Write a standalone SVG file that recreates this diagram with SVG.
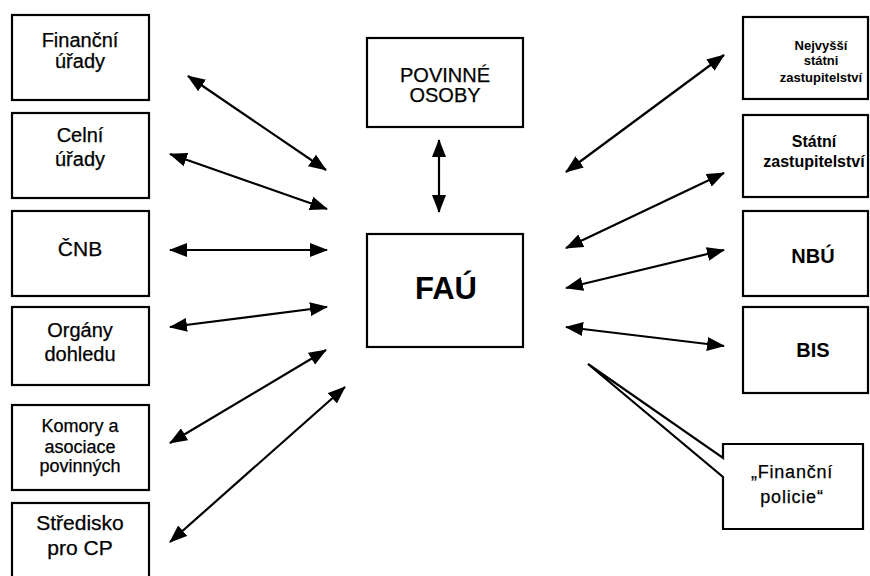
<svg xmlns="http://www.w3.org/2000/svg" width="870" height="576" viewBox="0 0 870 576">
<style>
.box{fill:#fff;stroke:#000;stroke-width:2.2}
.t{font-family:"Liberation Sans",Arial,sans-serif;font-size:20px;fill:#000;stroke:#000;stroke-width:0.25;text-anchor:middle}
.b{font-weight:bold;stroke-width:0}
.s{font-size:13px}
.c line{stroke:#000;stroke-width:2.2;marker-start:url(#ah);marker-end:url(#ah)}
</style>
<defs>
<marker id="ah" markerUnits="userSpaceOnUse" markerWidth="18" markerHeight="14" refX="17" refY="7" orient="auto-start-reverse" viewBox="0 0 18 14">
<path d="M0,0 L18,7 L0,14 z" fill="#000"/>
</marker>
</defs>
<rect width="870" height="576" fill="#fff"/>

<g id="financni-urady"><rect class="box" x="12" y="15" width="137" height="85"/><text class="t" x="80" y="47">Finanční</text><text class="t" x="80" y="68">úřady</text></g>
<g id="celni-urady"><rect class="box" x="12" y="113" width="137" height="85"/><text class="t" x="80" y="142">Celní</text><text class="t" x="80" y="166">úřady</text></g>
<g id="cnb"><rect class="box" x="12" y="211" width="137" height="85"/><text class="t" x="80" y="256" style="font-size:21px">ČNB</text></g>
<g id="organy-dohledu"><rect class="box" x="12" y="307" width="137" height="78"/><text class="t" x="80" y="337">Orgány</text><text class="t" x="80" y="361">dohledu</text></g>
<g id="komory"><rect class="box" x="12" y="405" width="137" height="85"/><text class="t" x="80" y="432" style="font-size:18px">Komory a</text><text class="t" x="80" y="453" style="font-size:18px">asociace</text><text class="t" x="80" y="472" style="font-size:18px">povinných</text></g>
<g id="stredisko"><rect class="box" x="12" y="503" width="137" height="80"/><text class="t" x="80" y="530" style="font-size:21px">Středisko</text><text class="t" x="80" y="555" style="font-size:21px">pro CP</text></g>

<g id="povinne-osoby"><rect class="box" x="367" y="38" width="156" height="89"/><text class="t" x="445" y="82">POVINNÉ</text><text class="t" x="445" y="102">OSOBY</text></g>
<g id="fau"><rect class="box" x="367" y="234" width="156" height="113"/><text class="t b" x="446" y="299" style="font-size:31px">FAÚ</text></g>

<g id="nejvyssi"><rect class="box" x="743" y="17" width="125" height="82"/><text class="t b s" x="821" y="50">Nejvyšší</text><text class="t b s" x="821" y="65">státni</text><text class="t b s" x="821" y="82">zastupitelství</text></g>
<g id="statni"><rect class="box" x="743" y="115" width="125" height="82"/><text class="t b" x="814" y="147" style="font-size:16px">Státní</text><text class="t b" x="814" y="167" style="font-size:16px">zastupitelství</text></g>
<g id="nbu"><rect class="box" x="743" y="211" width="125" height="85"/><text class="t b" x="813" y="263">NBÚ</text></g>
<g id="bis"><rect class="box" x="743" y="307" width="125" height="86"/><text class="t b" x="813" y="357">BIS</text></g>
<g id="financni-policie"><path class="box" d="M723,444 H863 V529 H723 V477 L588,364 L723,458 Z"/><text class="t" x="792" y="478" style="font-size:18px;letter-spacing:0.8px">„Finanční</text><text class="t" x="792" y="503" style="font-size:18px;letter-spacing:0.8px">policie“</text></g>

<g id="connectors" class="c">
<line x1="188" y1="76" x2="326" y2="170"/>
<line x1="170" y1="154" x2="327" y2="209"/>
<line x1="170" y1="250" x2="327" y2="250"/>
<line x1="170" y1="327" x2="327" y2="307"/>
<line x1="170" y1="443" x2="326" y2="350"/>
<line x1="170" y1="542" x2="345" y2="387"/>
<line x1="439" y1="140" x2="439" y2="212"/>
<line x1="566" y1="172" x2="724" y2="55"/>
<line x1="566" y1="248" x2="724" y2="173"/>
<line x1="566" y1="288" x2="724" y2="250"/>
<line x1="566" y1="327" x2="724" y2="346"/>
</g>
</svg>
